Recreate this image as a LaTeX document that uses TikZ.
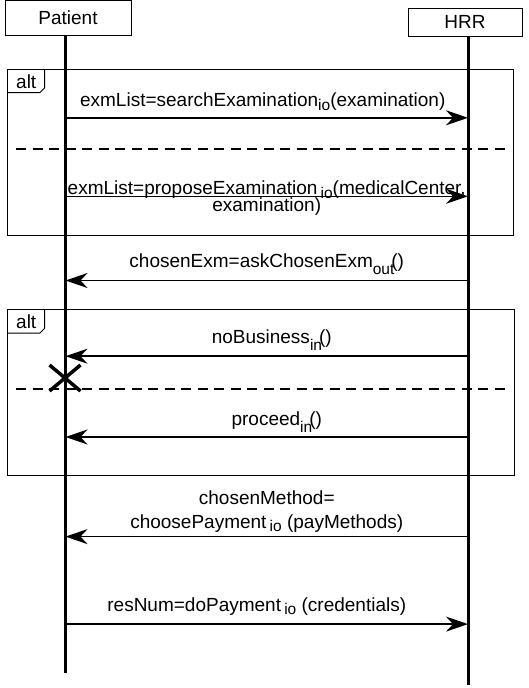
\documentclass[tikz,border=0pt]{standalone}
\usepackage{fontspec}
\setmainfont{Liberation Sans}
\usetikzlibrary{arrows.meta}

\newcommand{\msgsub}[2][4pt]{\raisebox{-#1}[0pt][0pt]{\fontsize{15.5}{15.5}\selectfont #2}}

\begin{document}
\begin{tikzpicture}[x=1pt, y=-1pt, font=\fontsize{19}{21}\selectfont,
        actor/.style={draw, line width=1pt, inner sep=0pt},
        life/.style={line width=3pt},
        msg/.style={line width=1.5pt, -{Stealth[length=22pt, width=15pt, inset=7pt]}},
        lbl/.style={midway, anchor=base, align=center, inner sep=0pt, yshift=#1},
        frag/.style={line width=1pt},
        sep/.style={line width=2pt, dash pattern=on 10pt off 6.5pt}]
    \useasboundingbox (0,0) rectangle (528,688);

        % lifelines
        \node[actor, minimum width=126pt, minimum height=35pt] (patient) at (68,17.5) {Patient};
        \node[actor, minimum width=114pt, minimum height=28pt] (hrr) at (465,22) {HRR};
        \coordinate (patientEnd) at (65.5,673);
        \coordinate (hrrEnd) at (468,685);
        \draw[life] (patient.south -| patientEnd) -- (patientEnd);
        \draw[life] (hrr.south -| hrrEnd) -- (hrrEnd);

        % first alt fragment
        \draw[frag] (7,69.5) rectangle (513,235.5);
        \draw[frag] (7,92.5) -- (40,92.5) -- (44.5,88) -- (44.5,69.5);
        \node[anchor=base west, inner sep=0pt] (alt1) at (16,88) {alt};
        \draw[sep] (16,148.5) -- (510,148.5);

        % second alt fragment
        \draw[frag] (7,309.5) rectangle (514,475.8);
        \draw[frag] (7,333) -- (40,333) -- (44.5,328.5) -- (44.5,309.5);
        \node[anchor=base west, inner sep=0pt] (alt2) at (16,328) {alt};
        \draw[sep] (16,389.2) -- (510,389.2);
        \draw[line width=3.5pt] (49.5,365) -- (80.5,391) (49.5,391) -- (80.5,365);

        % messages
        \coordinate (p1) at (65.5,117.8);  \coordinate (h1) at (468,117.8);
        \coordinate (p2) at (65.5,196.3);  \coordinate (h2) at (468,196.3);
        \coordinate (p3) at (65.5,280.5);  \coordinate (h3) at (468,280.5);
        \coordinate (p4) at (65.5,356.2);  \coordinate (h4) at (468,356.2);
        \coordinate (p5) at (65.5,437);    \coordinate (h5) at (468,437);
        \coordinate (p6) at (65.5,536.6);  \coordinate (h6) at (468,536.6);
        \coordinate (p7) at (65.5,624.1);  \coordinate (h7) at (468,624.1);

        \draw[msg] (p1) -- (h1) node[lbl=11pt, xshift=-4pt] {exmList=searchExamination\msgsub{io}(examination)};
        \draw[msg] (p2) -- (h2) node[lbl=-15.5pt] {exmList=proposeExamination\,\msgsub{io}(medicalCenter,\\[-3.5pt]examination)};
        \draw[msg] (h3) -- (p3) node[lbl=13pt] {chosenExm=askChosenExm\msgsub[7pt]{out}\kern-3pt()};
        \draw[msg] (h4) -- (p4) node[lbl=12.4pt, xshift=5pt] {noBusiness\msgsub[7pt]{in}\kern-3pt()};
        \draw[msg] (h5) -- (p5) node[lbl=11.7pt, xshift=10pt] {proceed\msgsub[7pt]{in}\kern-3pt()};
        \draw[msg] (h6) -- (p6) node[lbl=7.8pt] {chosenMethod=\\[3.8pt]choosePayment\,\msgsub[3pt]{io} (payMethods)};
        \draw[msg] (p7) -- (h7) node[lbl=12.8pt, xshift=-10pt] {resNum=doPayment\,\msgsub[3pt]{io} (credentials)};
    \end{tikzpicture}
\end{document}
